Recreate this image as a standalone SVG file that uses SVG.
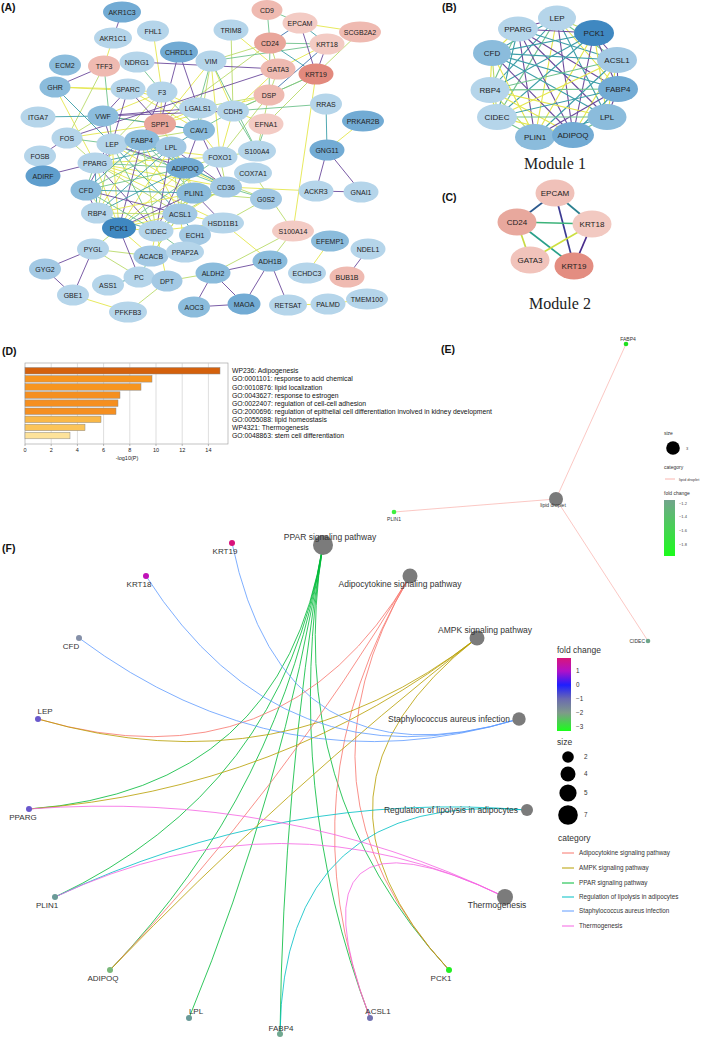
<svg xmlns="http://www.w3.org/2000/svg" width="709" height="1038" viewBox="0 0 709 1038">
<style>
text{font-family:"Liberation Sans",Arial,sans-serif;fill:#222}
.ttl{font-size:10.5px;font-weight:bold;fill:#111}
.ea line{stroke-width:0.9;fill:none}
.eb line{stroke-width:1.1;fill:none}
.y{stroke:#e4e64c}.yg{stroke:#b9da6a}.g{stroke:#6fc28c}.t{stroke:#3c9ea8}.b{stroke:#3d70ab}.p{stroke:#6b4a9c}
.na text{font-size:7px;text-anchor:middle}
.nb text{font-size:8px;text-anchor:middle}
.l{fill:#b5d5ea}.l2{fill:#a3c9e4}.m{fill:#8bbcdc}.md{fill:#72abd4}.d{fill:#5f9ecd}.dd{fill:#3f88c1}
.p1{fill:#f3cbc4}.p2{fill:#efbab1}.p3{fill:#e9a69b}.p4{fill:#e2897d}
.mod{font-family:"Liberation Serif","Times New Roman",serif;font-size:16px;text-anchor:middle}
.dl{font-size:6.8px;fill:#111}
.tick{font-size:5.5px;text-anchor:middle}
.ef path{fill:none;stroke-width:0.9;stroke-opacity:0.9}
.ptl{font-size:8.5px;text-anchor:middle;fill:#333}
.gtl{font-size:8px;text-anchor:middle;fill:#333}
.lg{font-size:8.5px;fill:#333}
.lgs{font-size:6.3px;fill:#333}
.es{font-size:5px;fill:#333}
.es2{font-size:4px;fill:#444}
</style>
<defs>
<linearGradient id="fcE" x1="0" y1="0" x2="0" y2="1"><stop offset="0" stop-color="#72a58c"/><stop offset="1" stop-color="#1cfc1c"/></linearGradient>
<linearGradient id="fcF" x1="0" y1="0" x2="0" y2="1"><stop offset="0" stop-color="#d8157a"/><stop offset="0.18" stop-color="#b011c8"/><stop offset="0.37" stop-color="#1e1eff"/><stop offset="0.56" stop-color="#6a6ab0"/><stop offset="0.75" stop-color="#7f9a8a"/><stop offset="1" stop-color="#1aff1a"/></linearGradient>
</defs>
<rect width="709" height="1038" fill="#fff"/>
<text class="ttl" x="1" y="11">(A)</text>
<text class="ttl" x="442" y="11">(B)</text>
<text class="ttl" x="442" y="201">(C)</text>
<text class="ttl" x="2" y="355">(D)</text>
<text class="ttl" x="441" y="353">(E)</text>
<text class="ttl" x="2" y="552">(F)</text>

<!-- Panel A connectors -->
<g id="A-connectors" class="ea">
<line class="y" x1="231" y1="30" x2="278" y2="69"/><line class="yg" x1="231" y1="30" x2="233" y2="111"/><line class="y" x1="160" y1="124" x2="269" y2="95"/><line class="yg" x1="198" y1="108" x2="269" y2="95"/>
<line class="y" x1="113" y1="38" x2="104" y2="66"/><line class="y" x1="211" y1="61" x2="233" y2="111"/><line class="y" x1="211" y1="61" x2="160" y2="124"/><line class="y" x1="211" y1="61" x2="220" y2="157"/><line class="y" x1="55" y1="87" x2="128" y2="89"/><line class="y" x1="55" y1="87" x2="162" y2="92"/><line class="y" x1="55" y1="87" x2="95" y2="163"/><line class="y" x1="128" y1="89" x2="198" y2="108"/><line class="y" x1="128" y1="89" x2="199" y2="130"/><line class="y" x1="162" y1="92" x2="160" y2="124"/><line class="y" x1="162" y1="92" x2="103" y2="116"/><line class="y" x1="162" y1="92" x2="198" y2="108"/><line class="y" x1="153" y1="31" x2="162" y2="92"/><line class="y" x1="103" y1="116" x2="160" y2="124"/><line class="y" x1="67" y1="138" x2="160" y2="124"/><line class="y" x1="198" y1="108" x2="233" y2="111"/><line class="y" x1="198" y1="108" x2="160" y2="124"/><line class="y" x1="233" y1="111" x2="266" y2="124"/><line class="y" x1="233" y1="111" x2="220" y2="157"/><line class="y" x1="233" y1="111" x2="278" y2="69"/><line class="y" x1="160" y1="124" x2="185" y2="168"/><line class="y" x1="199" y1="130" x2="220" y2="157"/><line class="y" x1="300" y1="23" x2="360" y2="32"/><line class="y" x1="327" y1="44" x2="278" y2="69"/><line class="y" x1="316" y1="74" x2="293" y2="231"/><line class="y" x1="363" y1="121" x2="327" y2="150"/><line class="y" x1="220" y1="157" x2="95" y2="163"/><line class="y" x1="220" y1="157" x2="112" y2="144"/><line class="y" x1="226" y1="187" x2="316" y2="191"/><line class="y" x1="223" y1="223" x2="270" y2="261"/><line class="y" x1="223" y1="223" x2="180" y2="214"/><line class="y" x1="330" y1="241" x2="307" y2="273"/><line class="y" x1="288" y1="305" x2="328" y2="304"/><line class="y" x1="328" y1="304" x2="367" y2="299"/><line class="y" x1="167" y1="281" x2="156" y2="231"/><line class="y" x1="156" y1="231" x2="151" y2="256"/><line class="y" x1="180" y1="214" x2="185" y2="252"/><line class="y" x1="119" y1="228" x2="151" y2="256"/><line class="y" x1="73" y1="295" x2="128" y2="312"/><line class="y" x1="151" y1="256" x2="180" y2="214"/><line class="y" x1="223" y1="223" x2="95" y2="163"/><line class="y" x1="223" y1="223" x2="156" y2="231"/><line class="y" x1="226" y1="187" x2="95" y2="163"/><line class="y" x1="226" y1="187" x2="185" y2="168"/><line class="y" x1="226" y1="187" x2="156" y2="231"/><line class="y" x1="226" y1="187" x2="119" y2="228"/>
<line class="yg" x1="104" y1="66" x2="67" y2="138"/><line class="yg" x1="211" y1="61" x2="199" y2="130"/><line class="yg" x1="211" y1="61" x2="270" y2="43"/><line class="yg" x1="162" y1="92" x2="112" y2="144"/><line class="yg" x1="103" y1="116" x2="67" y2="138"/><line class="yg" x1="67" y1="138" x2="95" y2="163"/><line class="yg" x1="233" y1="111" x2="316" y2="74"/><line class="yg" x1="160" y1="124" x2="112" y2="144"/><line class="yg" x1="160" y1="124" x2="270" y2="43"/><line class="yg" x1="199" y1="130" x2="112" y2="144"/><line class="yg" x1="270" y1="43" x2="278" y2="69"/><line class="yg" x1="360" y1="32" x2="316" y2="74"/><line class="yg" x1="278" y1="69" x2="269" y2="95"/><line class="yg" x1="316" y1="74" x2="266" y2="124"/><line class="yg" x1="269" y1="95" x2="257" y2="151"/><line class="yg" x1="269" y1="95" x2="220" y2="157"/><line class="yg" x1="257" y1="151" x2="220" y2="157"/><line class="yg" x1="253" y1="173" x2="293" y2="231"/><line class="yg" x1="253" y1="173" x2="226" y2="187"/><line class="yg" x1="266" y1="199" x2="194" y2="193"/><line class="yg" x1="266" y1="199" x2="223" y2="223"/><line class="yg" x1="266" y1="199" x2="185" y2="168"/><line class="yg" x1="293" y1="231" x2="270" y2="261"/><line class="yg" x1="293" y1="231" x2="213" y2="273"/><line class="yg" x1="167" y1="281" x2="213" y2="273"/><line class="yg" x1="167" y1="281" x2="128" y2="312"/><line class="yg" x1="119" y1="228" x2="93" y2="249"/><line class="yg" x1="93" y1="249" x2="151" y2="256"/><line class="yg" x1="93" y1="249" x2="139" y2="277"/><line class="yg" x1="185" y1="168" x2="220" y2="157"/><line class="yg" x1="220" y1="157" x2="226" y2="187"/><line class="yg" x1="226" y1="187" x2="194" y2="193"/><line class="yg" x1="226" y1="187" x2="180" y2="214"/><line class="yg" x1="151" y1="256" x2="194" y2="193"/>
<line class="g" x1="104" y1="66" x2="112" y2="144"/><line class="g" x1="137" y1="62" x2="162" y2="92"/><line class="g" x1="211" y1="61" x2="198" y2="108"/><line class="g" x1="211" y1="61" x2="257" y2="151"/><line class="g" x1="211" y1="61" x2="327" y2="44"/><line class="g" x1="162" y1="92" x2="199" y2="130"/><line class="g" x1="67" y1="138" x2="112" y2="144"/><line class="g" x1="198" y1="108" x2="199" y2="130"/><line class="g" x1="233" y1="111" x2="269" y2="95"/><line class="g" x1="233" y1="111" x2="326" y2="104"/><line class="g" x1="233" y1="111" x2="257" y2="151"/><line class="g" x1="233" y1="111" x2="199" y2="130"/><line class="g" x1="160" y1="124" x2="142" y2="140"/><line class="g" x1="267" y1="9" x2="300" y2="23"/><line class="g" x1="267" y1="9" x2="270" y2="43"/><line class="g" x1="270" y1="43" x2="327" y2="44"/><line class="g" x1="270" y1="43" x2="269" y2="95"/><line class="g" x1="316" y1="74" x2="269" y2="95"/><line class="g" x1="266" y1="124" x2="257" y2="151"/><line class="g" x1="220" y1="157" x2="119" y2="228"/><line class="g" x1="226" y1="187" x2="266" y2="199"/><line class="g" x1="156" y1="231" x2="185" y2="252"/><line class="g" x1="139" y1="277" x2="151" y2="256"/><line class="g" x1="226" y1="187" x2="112" y2="144"/>
<line class="t" x1="55" y1="87" x2="112" y2="144"/><line class="t" x1="38" y1="117" x2="103" y2="116"/><line class="t" x1="103" y1="116" x2="199" y2="130"/><line class="t" x1="160" y1="124" x2="199" y2="130"/><line class="t" x1="199" y1="130" x2="171" y2="147"/><line class="t" x1="300" y1="23" x2="327" y2="44"/><line class="t" x1="270" y1="43" x2="316" y2="74"/><line class="t" x1="326" y1="104" x2="327" y2="150"/><line class="t" x1="180" y1="214" x2="195" y2="235"/><line class="t" x1="108" y1="285" x2="139" y2="277"/><line class="t" x1="226" y1="187" x2="142" y2="140"/>
<line class="b" x1="300" y1="23" x2="270" y2="43"/><line class="b" x1="327" y1="44" x2="269" y2="95"/>
<line class="p" x1="122" y1="12" x2="113" y2="38"/><line class="p" x1="104" y1="66" x2="55" y2="87"/><line class="p" x1="137" y1="62" x2="278" y2="69"/><line class="p" x1="179" y1="52" x2="198" y2="108"/><line class="p" x1="179" y1="52" x2="160" y2="124"/><line class="p" x1="128" y1="89" x2="103" y2="116"/><line class="p" x1="128" y1="89" x2="112" y2="144"/><line class="p" x1="128" y1="89" x2="160" y2="124"/><line class="p" x1="162" y1="92" x2="142" y2="140"/><line class="p" x1="103" y1="116" x2="198" y2="108"/><line class="p" x1="103" y1="116" x2="233" y2="111"/><line class="p" x1="103" y1="116" x2="112" y2="144"/><line class="p" x1="67" y1="138" x2="278" y2="69"/><line class="p" x1="67" y1="138" x2="40" y2="156"/><line class="p" x1="160" y1="124" x2="95" y2="163"/><line class="p" x1="199" y1="130" x2="185" y2="168"/><line class="p" x1="199" y1="130" x2="226" y2="187"/><line class="p" x1="300" y1="23" x2="316" y2="74"/><line class="p" x1="327" y1="44" x2="316" y2="74"/><line class="p" x1="327" y1="150" x2="316" y2="191"/><line class="p" x1="327" y1="150" x2="361" y2="192"/><line class="p" x1="316" y1="191" x2="361" y2="192"/><line class="p" x1="223" y1="223" x2="194" y2="193"/><line class="p" x1="368" y1="249" x2="347" y2="277"/><line class="p" x1="270" y1="261" x2="244" y2="304"/><line class="p" x1="270" y1="261" x2="288" y2="305"/><line class="p" x1="270" y1="261" x2="213" y2="273"/><line class="p" x1="244" y1="304" x2="194" y2="307"/><line class="p" x1="213" y1="273" x2="194" y2="307"/><line class="p" x1="213" y1="273" x2="244" y2="304"/><line class="p" x1="119" y1="228" x2="139" y2="277"/><line class="p" x1="93" y1="249" x2="45" y2="269"/><line class="p" x1="93" y1="249" x2="73" y2="295"/><line class="p" x1="45" y1="269" x2="73" y2="295"/><line class="p" x1="95" y1="163" x2="43" y2="176"/><line class="p" x1="226" y1="187" x2="171" y2="147"/>
<line class="p" x1="95" y1="163" x2="112" y2="144"/><line class="y" x1="95" y1="163" x2="142" y2="140"/><line class="t" x1="95" y1="163" x2="171" y2="147"/><line class="g" x1="95" y1="163" x2="185" y2="168"/><line class="y" x1="95" y1="163" x2="194" y2="193"/><line class="yg" x1="95" y1="163" x2="180" y2="214"/><line class="p" x1="95" y1="163" x2="156" y2="231"/><line class="y" x1="95" y1="163" x2="119" y2="228"/><line class="t" x1="95" y1="163" x2="97" y2="213"/><line class="g" x1="95" y1="163" x2="86" y2="190"/><line class="y" x1="112" y1="144" x2="142" y2="140"/><line class="yg" x1="112" y1="144" x2="171" y2="147"/><line class="p" x1="112" y1="144" x2="185" y2="168"/><line class="y" x1="112" y1="144" x2="194" y2="193"/><line class="t" x1="112" y1="144" x2="180" y2="214"/><line class="g" x1="112" y1="144" x2="156" y2="231"/><line class="y" x1="112" y1="144" x2="119" y2="228"/><line class="yg" x1="112" y1="144" x2="97" y2="213"/><line class="p" x1="112" y1="144" x2="86" y2="190"/><line class="y" x1="142" y1="140" x2="171" y2="147"/><line class="t" x1="142" y1="140" x2="185" y2="168"/><line class="g" x1="142" y1="140" x2="194" y2="193"/><line class="y" x1="142" y1="140" x2="180" y2="214"/><line class="yg" x1="142" y1="140" x2="156" y2="231"/><line class="p" x1="142" y1="140" x2="119" y2="228"/><line class="y" x1="142" y1="140" x2="97" y2="213"/><line class="t" x1="142" y1="140" x2="86" y2="190"/><line class="g" x1="171" y1="147" x2="185" y2="168"/><line class="y" x1="171" y1="147" x2="194" y2="193"/><line class="yg" x1="171" y1="147" x2="180" y2="214"/><line class="p" x1="171" y1="147" x2="156" y2="231"/><line class="y" x1="171" y1="147" x2="119" y2="228"/><line class="t" x1="171" y1="147" x2="97" y2="213"/><line class="g" x1="171" y1="147" x2="86" y2="190"/><line class="y" x1="185" y1="168" x2="194" y2="193"/><line class="yg" x1="185" y1="168" x2="180" y2="214"/><line class="p" x1="185" y1="168" x2="156" y2="231"/><line class="y" x1="185" y1="168" x2="119" y2="228"/><line class="t" x1="185" y1="168" x2="97" y2="213"/><line class="g" x1="185" y1="168" x2="86" y2="190"/><line class="y" x1="194" y1="193" x2="180" y2="214"/><line class="yg" x1="194" y1="193" x2="156" y2="231"/><line class="p" x1="194" y1="193" x2="119" y2="228"/><line class="y" x1="194" y1="193" x2="97" y2="213"/><line class="t" x1="194" y1="193" x2="86" y2="190"/><line class="g" x1="180" y1="214" x2="156" y2="231"/><line class="y" x1="180" y1="214" x2="119" y2="228"/><line class="yg" x1="180" y1="214" x2="97" y2="213"/><line class="p" x1="180" y1="214" x2="86" y2="190"/><line class="y" x1="156" y1="231" x2="119" y2="228"/><line class="t" x1="156" y1="231" x2="97" y2="213"/><line class="g" x1="156" y1="231" x2="86" y2="190"/><line class="y" x1="119" y1="228" x2="97" y2="213"/><line class="yg" x1="119" y1="228" x2="86" y2="190"/><line class="p" x1="97" y1="213" x2="86" y2="190"/>
</g>

<!-- Panel A nodes -->
<g class="na">
<g id="a-AKR1C3"><ellipse class="md" cx="122" cy="12" rx="19" ry="10.5"/><text x="122" y="14.5">AKR1C3</text></g>
<g id="a-AKR1C1"><ellipse class="l" cx="113" cy="38" rx="19" ry="10.5"/><text x="113" y="40.5">AKR1C1</text></g>
<g id="a-FHL1"><ellipse class="l" cx="153" cy="31" rx="16" ry="10.5"/><text x="153" y="33.5">FHL1</text></g>
<g id="a-TRIM8"><ellipse class="l" cx="231" cy="30" rx="17.5" ry="10.5"/><text x="231" y="32.5">TRIM8</text></g>
<g id="a-CD9"><ellipse class="p2" cx="267" cy="10" rx="15.5" ry="10"/><text x="267" y="12.5">CD9</text></g>
<g id="a-EPCAM"><ellipse class="p1" cx="300" cy="23" rx="17.5" ry="10.5"/><text x="300" y="25.5">EPCAM</text></g>
<g id="a-SCGB2A2"><ellipse class="p2" cx="360" cy="32" rx="21" ry="10.5"/><text x="360" y="34.5">SCGB2A2</text></g>
<g id="a-CD24"><ellipse class="p3" cx="270" cy="43" rx="16" ry="10.5"/><text x="270" y="45.5">CD24</text></g>
<g id="a-KRT18"><ellipse class="p1" cx="327" cy="44" rx="17.5" ry="10.5"/><text x="327" y="46.5">KRT18</text></g>
<g id="a-CHRDL1"><ellipse class="md" cx="179" cy="52" rx="19" ry="10.5"/><text x="179" y="54.5">CHRDL1</text></g>
<g id="a-VIM"><ellipse class="l" cx="211" cy="61" rx="15.5" ry="10.5"/><text x="211" y="63.5">VIM</text></g>
<g id="a-GATA3"><ellipse class="p2" cx="278" cy="69" rx="17.5" ry="10.5"/><text x="278" y="71.5">GATA3</text></g>
<g id="a-KRT19"><ellipse class="p4" cx="316" cy="74" rx="17.5" ry="10.5"/><text x="316" y="76.5">KRT19</text></g>
<g id="a-ECM2"><ellipse class="m" cx="65" cy="65" rx="16" ry="10.5"/><text x="65" y="67.5">ECM2</text></g>
<g id="a-TFF3"><ellipse class="p2" cx="104" cy="66" rx="16" ry="10.5"/><text x="104" y="68.5">TFF3</text></g>
<g id="a-NDRG1"><ellipse class="l" cx="137" cy="62" rx="17.5" ry="10.5"/><text x="137" y="64.5">NDRG1</text></g>
<g id="a-GHR"><ellipse class="m" cx="55" cy="87" rx="15.5" ry="10.5"/><text x="55" y="89.5">GHR</text></g>
<g id="a-SPARC"><ellipse class="l" cx="128" cy="89" rx="17.5" ry="10.5"/><text x="128" y="91.5">SPARC</text></g>
<g id="a-F3"><ellipse class="l" cx="162" cy="92" rx="15.5" ry="10.5"/><text x="162" y="94.5">F3</text></g>
<g id="a-DSP"><ellipse class="p2" cx="269" cy="95" rx="15.5" ry="10.5"/><text x="269" y="97.5">DSP</text></g>
<g id="a-RRAS"><ellipse class="l" cx="326" cy="104" rx="16" ry="10.5"/><text x="326" y="106.5">RRAS</text></g>
<g id="a-PRKAR2B"><ellipse class="md" cx="363" cy="121" rx="21" ry="10.5"/><text x="363" y="123.5">PRKAR2B</text></g>
<g id="a-ITGA7"><ellipse class="l" cx="38" cy="117" rx="17.5" ry="10.5"/><text x="38" y="119.5">ITGA7</text></g>
<g id="a-VWF"><ellipse class="m" cx="103" cy="116" rx="15.5" ry="10.5"/><text x="103" y="118.5">VWF</text></g>
<g id="a-LGALS1"><ellipse class="l" cx="198" cy="108" rx="19" ry="10.5"/><text x="198" y="110.5">LGALS1</text></g>
<g id="a-CDH5"><ellipse class="l" cx="233" cy="111" rx="16" ry="10.5"/><text x="233" y="113.5">CDH5</text></g>
<g id="a-SPP1"><ellipse class="p3" cx="160" cy="124" rx="16" ry="10.5"/><text x="160" y="126.5">SPP1</text></g>
<g id="a-CAV1"><ellipse class="m" cx="199" cy="130" rx="16" ry="10.5"/><text x="199" y="132.5">CAV1</text></g>
<g id="a-EFNA1"><ellipse class="p1" cx="266" cy="124" rx="17.5" ry="10.5"/><text x="266" y="126.5">EFNA1</text></g>
<g id="a-FOS"><ellipse class="l" cx="67" cy="138" rx="15.5" ry="10.5"/><text x="67" y="140.5">FOS</text></g>
<g id="a-LEP"><ellipse class="l" cx="112" cy="144" rx="15.5" ry="10.5"/><text x="112" y="146.5">LEP</text></g>
<g id="a-FABP4"><ellipse class="m" cx="142" cy="140" rx="17.5" ry="10.5"/><text x="142" y="142.5">FABP4</text></g>
<g id="a-LPL"><ellipse class="l2" cx="171" cy="147" rx="15.5" ry="10.5"/><text x="171" y="149.5">LPL</text></g>
<g id="a-FOXO1"><ellipse class="l" cx="220" cy="157" rx="17.5" ry="10.5"/><text x="220" y="159.5">FOXO1</text></g>
<g id="a-S100A4"><ellipse class="l" cx="257" cy="151" rx="19" ry="10.5"/><text x="257" y="153.5">S100A4</text></g>
<g id="a-GNG11"><ellipse class="md" cx="327" cy="150" rx="17.5" ry="10.5"/><text x="327" y="152.5">GNG11</text></g>
<g id="a-FOSB"><ellipse class="l" cx="40" cy="156" rx="16" ry="10.5"/><text x="40" y="158.5">FOSB</text></g>
<g id="a-PPARG"><ellipse class="l" cx="95" cy="163" rx="17.5" ry="10.5"/><text x="95" y="165.5">PPARG</text></g>
<g id="a-ADIPOQ"><ellipse class="md" cx="185" cy="168" rx="19" ry="10.5"/><text x="185" y="170.5">ADIPOQ</text></g>
<g id="a-COX7A1"><ellipse class="l" cx="253" cy="173" rx="19" ry="10.5"/><text x="253" y="175.5">COX7A1</text></g>
<g id="a-ADIRF"><ellipse class="d" cx="43" cy="176" rx="17.5" ry="10.5"/><text x="43" y="178.5">ADIRF</text></g>
<g id="a-CFD"><ellipse class="m" cx="86" cy="190" rx="15.5" ry="10.5"/><text x="86" y="192.5">CFD</text></g>
<g id="a-PLIN1"><ellipse class="m" cx="194" cy="193" rx="17.5" ry="10.5"/><text x="194" y="195.5">PLIN1</text></g>
<g id="a-CD36"><ellipse class="l2" cx="226" cy="187" rx="16" ry="10.5"/><text x="226" y="189.5">CD36</text></g>
<g id="a-ACKR3"><ellipse class="l" cx="316" cy="191" rx="17.5" ry="10.5"/><text x="316" y="193.5">ACKR3</text></g>
<g id="a-GNAI1"><ellipse class="l" cx="361" cy="192" rx="17.5" ry="10.5"/><text x="361" y="194.5">GNAI1</text></g>
<g id="a-G0S2"><ellipse class="l2" cx="266" cy="199" rx="16" ry="10.5"/><text x="266" y="201.5">G0S2</text></g>
<g id="a-RBP4"><ellipse class="l" cx="97" cy="213" rx="16" ry="10.5"/><text x="97" y="215.5">RBP4</text></g>
<g id="a-ACSL1"><ellipse class="l2" cx="180" cy="214" rx="17.5" ry="10.5"/><text x="180" y="216.5">ACSL1</text></g>
<g id="a-HSD11B1"><ellipse class="l" cx="223" cy="223" rx="21" ry="10.5"/><text x="223" y="225.5">HSD11B1</text></g>
<g id="a-PCK1"><ellipse class="dd" cx="119" cy="228" rx="17" ry="10.5"/><text x="119" y="230.5">PCK1</text></g>
<g id="a-CIDEC"><ellipse class="l" cx="156" cy="231" rx="17.5" ry="10.5"/><text x="156" y="233.5">CIDEC</text></g>
<g id="a-ECH1"><ellipse class="l2" cx="195" cy="235" rx="16" ry="10.5"/><text x="195" y="237.5">ECH1</text></g>
<g id="a-S100A14"><ellipse class="p1" cx="293" cy="231" rx="21" ry="10.5"/><text x="293" y="233.5">S100A14</text></g>
<g id="a-EFEMP1"><ellipse class="m" cx="330" cy="241" rx="19" ry="10.5"/><text x="330" y="243.5">EFEMP1</text></g>
<g id="a-NDEL1"><ellipse class="l" cx="368" cy="249" rx="17.5" ry="10.5"/><text x="368" y="251.5">NDEL1</text></g>
<g id="a-PYGL"><ellipse class="l" cx="93" cy="249" rx="16" ry="10.5"/><text x="93" y="251.5">PYGL</text></g>
<g id="a-ACACB"><ellipse class="l2" cx="151" cy="256" rx="17.5" ry="10.5"/><text x="151" y="258.5">ACACB</text></g>
<g id="a-PPAP2A"><ellipse class="l" cx="185" cy="252" rx="19" ry="10.5"/><text x="185" y="254.5">PPAP2A</text></g>
<g id="a-ECHDC3"><ellipse class="l" cx="307" cy="273" rx="19" ry="10.5"/><text x="307" y="275.5">ECHDC3</text></g>
<g id="a-BUB1B"><ellipse class="p2" cx="347" cy="277" rx="17.5" ry="10.5"/><text x="347" y="279.5">BUB1B</text></g>
<g id="a-ADH1B"><ellipse class="m" cx="270" cy="261" rx="17.5" ry="10.5"/><text x="270" y="263.5">ADH1B</text></g>
<g id="a-ALDH2"><ellipse class="m" cx="213" cy="273" rx="17.5" ry="10.5"/><text x="213" y="275.5">ALDH2</text></g>
<g id="a-GYG2"><ellipse class="l2" cx="45" cy="269" rx="16" ry="10.5"/><text x="45" y="271.5">GYG2</text></g>
<g id="a-PC"><ellipse class="l" cx="139" cy="277" rx="15.5" ry="10.5"/><text x="139" y="279.5">PC</text></g>
<g id="a-ASS1"><ellipse class="l" cx="108" cy="285" rx="16" ry="10.5"/><text x="108" y="287.5">ASS1</text></g>
<g id="a-DPT"><ellipse class="l2" cx="167" cy="281" rx="15.5" ry="10.5"/><text x="167" y="283.5">DPT</text></g>
<g id="a-GBE1"><ellipse class="l" cx="73" cy="295" rx="16" ry="10.5"/><text x="73" y="297.5">GBE1</text></g>
<g id="a-AOC3"><ellipse class="m" cx="194" cy="307" rx="16" ry="10.5"/><text x="194" y="309.5">AOC3</text></g>
<g id="a-MAOA"><ellipse class="md" cx="244" cy="304" rx="16.5" ry="10.5"/><text x="244" y="306.5">MAOA</text></g>
<g id="a-RETSAT"><ellipse class="l" cx="288" cy="305" rx="19" ry="10.5"/><text x="288" y="307.5">RETSAT</text></g>
<g id="a-PALMD"><ellipse class="l" cx="328" cy="304" rx="17.5" ry="10.5"/><text x="328" y="306.5">PALMD</text></g>
<g id="a-TMEM100"><ellipse class="l" cx="367" cy="299" rx="21" ry="10.5"/><text x="367" y="301.5">TMEM100</text></g>
<g id="a-PFKFB3"><ellipse class="l" cx="128" cy="312" rx="19" ry="10.5"/><text x="128" y="314.5">PFKFB3</text></g>
</g>

<!-- Panel B connectors -->
<g id="B-connectors" class="eb">
<line class="p" x1="557" y1="18" x2="518" y2="29"/><line class="yg" x1="557" y1="18" x2="594" y2="33"/><line class="t" x1="557" y1="18" x2="492" y2="53"/><line class="g" x1="557" y1="18" x2="617" y2="60"/><line class="t" x1="557" y1="18" x2="490" y2="90"/><line class="y" x1="557" y1="18" x2="618" y2="89"/><line class="g" x1="557" y1="18" x2="497" y2="117"/><line class="t" x1="557" y1="18" x2="607" y2="117"/><line class="y" x1="557" y1="18" x2="535" y2="137"/><line class="p" x1="557" y1="18" x2="573" y2="135"/>
<line class="p" x1="518" y1="29" x2="594" y2="33"/><line class="y" x1="518" y1="29" x2="492" y2="53"/><line class="t" x1="518" y1="29" x2="617" y2="60"/><line class="g" x1="518" y1="29" x2="490" y2="90"/><line class="p" x1="518" y1="29" x2="618" y2="89"/><line class="t" x1="518" y1="29" x2="497" y2="117"/><line class="p" x1="518" y1="29" x2="607" y2="117"/><line class="p" x1="518" y1="29" x2="535" y2="137"/><line class="p" x1="518" y1="29" x2="573" y2="135"/>
<line class="t" x1="594" y1="33" x2="492" y2="53"/><line class="p" x1="594" y1="33" x2="617" y2="60"/><line class="t" x1="594" y1="33" x2="490" y2="90"/><line class="p" x1="594" y1="33" x2="618" y2="89"/><line class="t" x1="594" y1="33" x2="497" y2="117"/><line class="y" x1="594" y1="33" x2="607" y2="117"/><line class="y" x1="594" y1="33" x2="535" y2="137"/><line class="p" x1="594" y1="33" x2="573" y2="135"/>
<line class="t" x1="492" y1="53" x2="617" y2="60"/><line class="y" x1="492" y1="53" x2="490" y2="90"/><line class="t" x1="492" y1="53" x2="618" y2="89"/><line class="yg" x1="492" y1="53" x2="497" y2="117"/><line class="t" x1="492" y1="53" x2="607" y2="117"/><line class="y" x1="492" y1="53" x2="535" y2="137"/><line class="p" x1="492" y1="53" x2="573" y2="135"/>
<line class="g" x1="617" y1="60" x2="490" y2="90"/><line class="p" x1="617" y1="60" x2="618" y2="89"/><line class="y" x1="617" y1="60" x2="497" y2="117"/><line class="y" x1="617" y1="60" x2="607" y2="117"/><line class="t" x1="617" y1="60" x2="535" y2="137"/><line class="y" x1="617" y1="60" x2="573" y2="135"/>
<line class="g" x1="490" y1="90" x2="618" y2="89"/><line class="y" x1="490" y1="90" x2="497" y2="117"/><line class="y" x1="490" y1="90" x2="607" y2="117"/><line class="yg" x1="490" y1="90" x2="535" y2="137"/><line class="y" x1="490" y1="90" x2="573" y2="135"/>
<line class="t" x1="618" y1="89" x2="497" y2="117"/><line class="p" x1="618" y1="89" x2="607" y2="117"/><line class="p" x1="618" y1="89" x2="535" y2="137"/><line class="t" x1="618" y1="89" x2="573" y2="135"/>
<line class="g" x1="497" y1="117" x2="607" y2="117"/><line class="g" x1="497" y1="117" x2="535" y2="137"/><line class="y" x1="497" y1="117" x2="573" y2="135"/>
<line class="t" x1="607" y1="117" x2="535" y2="137"/><line class="g" x1="607" y1="117" x2="573" y2="135"/><line class="t" x1="535" y1="137" x2="573" y2="135"/>
</g>
<g class="nb">
<g id="b-LEP"><ellipse class="l" cx="557" cy="18" rx="19" ry="12.5"/><text x="557" y="20.8">LEP</text></g>
<g id="b-PPARG"><ellipse class="l" cx="518" cy="29" rx="20" ry="12.5"/><text x="518" y="31.8">PPARG</text></g>
<g id="b-PCK1"><ellipse class="dd" cx="594" cy="33" rx="20" ry="13"/><text x="594" y="35.8">PCK1</text></g>
<g id="b-CFD"><ellipse class="m" cx="492" cy="53" rx="19" ry="13"/><text x="492" y="55.8">CFD</text></g>
<g id="b-ACSL1"><ellipse class="l2" cx="617" cy="60" rx="20" ry="13"/><text x="617" y="62.8">ACSL1</text></g>
<g id="b-RBP4"><ellipse class="l" cx="490" cy="90" rx="19.5" ry="13"/><text x="490" y="92.8">RBP4</text></g>
<g id="b-FABP4"><ellipse class="md" cx="618" cy="89" rx="20" ry="13"/><text x="618" y="91.8">FABP4</text></g>
<g id="b-CIDEC"><ellipse class="l" cx="497" cy="117" rx="20" ry="13"/><text x="497" y="119.8">CIDEC</text></g>
<g id="b-LPL"><ellipse class="m" cx="607" cy="117" rx="19.5" ry="13"/><text x="607" y="119.8">LPL</text></g>
<g id="b-PLIN1"><ellipse class="m" cx="535" cy="137" rx="20" ry="13"/><text x="535" y="139.8">PLIN1</text></g>
<g id="b-ADIPOQ"><ellipse class="md" cx="573" cy="135" rx="21" ry="13"/><text x="573" y="137.8">ADIPOQ</text></g>
</g>
<text class="mod" x="555" y="169">Module 1</text>

<!-- Panel C -->
<g id="C-connectors" stroke-width="1.7">
<line x1="555" y1="193" x2="517" y2="222" stroke="#2d5a8e"/><line x1="555" y1="193" x2="592" y2="224" stroke="#2c8190"/><line x1="555" y1="193" x2="574" y2="266" stroke="#3b3a92"/><line x1="517" y1="222" x2="592" y2="224" stroke="#3cb37a"/><line x1="517" y1="222" x2="530" y2="260" stroke="#c8da44"/><line x1="517" y1="222" x2="574" y2="266" stroke="#2aa08a"/><line x1="530" y1="260" x2="592" y2="224" stroke="#cde040"/><line x1="592" y1="224" x2="574" y2="266" stroke="#4a2d8c"/>
</g>
<g class="nb">
<g id="c-EPCAM"><ellipse cx="555" cy="193" rx="19.5" ry="13.5" fill="#f0c1b9"/><text x="555" y="195.8">EPCAM</text></g>
<g id="c-CD24"><ellipse cx="517" cy="222" rx="19.5" ry="13.5" fill="#e8a89d"/><text x="517" y="224.8">CD24</text></g>
<g id="c-KRT18"><ellipse cx="592" cy="224" rx="19.5" ry="13.5" fill="#f2c9c1"/><text x="592" y="226.8">KRT18</text></g>
<g id="c-GATA3"><ellipse cx="530" cy="260" rx="19.5" ry="13.5" fill="#f1c3bb"/><text x="530" y="262.8">GATA3</text></g>
<g id="c-KRT19"><ellipse cx="574" cy="266" rx="19.5" ry="13.5" fill="#e38d81"/><text x="574" y="268.8">KRT19</text></g>
</g>
<text class="mod" x="560" y="309">Module 2</text>

<!-- Panel D -->
<g id="D-chart">
<rect x="25" y="363" width="203" height="81" fill="#fff" stroke="#999" stroke-width="0.6"/>
<g stroke="#c8c8c8" stroke-width="0.6">
<line x1="51.2" y1="363" x2="51.2" y2="444"/><line x1="77.4" y1="363" x2="77.4" y2="444"/><line x1="103.6" y1="363" x2="103.6" y2="444"/><line x1="129.8" y1="363" x2="129.8" y2="444"/><line x1="156" y1="363" x2="156" y2="444"/><line x1="182.2" y1="363" x2="182.2" y2="444"/><line x1="208.4" y1="363" x2="208.4" y2="444"/>
</g>
<g stroke="#8a8a8a" stroke-width="0.5">
<rect x="25" y="367.5" width="195" height="6.5" fill="#d4610d"/>
<rect x="25" y="375.6" width="127" height="6.5" fill="#f7951f"/>
<rect x="25" y="383.7" width="116" height="6.5" fill="#f7951f"/>
<rect x="25" y="391.8" width="95" height="6.5" fill="#f58f20"/>
<rect x="25" y="399.9" width="93" height="6.5" fill="#f58f20"/>
<rect x="25" y="408" width="91" height="6.5" fill="#f58f20"/>
<rect x="25" y="416.1" width="76" height="6.5" fill="#f9b848"/>
<rect x="25" y="424.2" width="60" height="6.5" fill="#fbc459"/>
<rect x="25" y="432.3" width="45" height="6.5" fill="#fde29a"/>
</g>
<g stroke="#777" stroke-width="0.5">
<line x1="25" y1="444" x2="25" y2="446"/><line x1="51.2" y1="444" x2="51.2" y2="446"/><line x1="77.4" y1="444" x2="77.4" y2="446"/><line x1="103.6" y1="444" x2="103.6" y2="446"/><line x1="129.8" y1="444" x2="129.8" y2="446"/><line x1="156" y1="444" x2="156" y2="446"/><line x1="182.2" y1="444" x2="182.2" y2="446"/><line x1="208.4" y1="444" x2="208.4" y2="446"/>
</g>
<text class="tick" x="25" y="452">0</text><text class="tick" x="51.2" y="452">2</text><text class="tick" x="77.4" y="452">4</text><text class="tick" x="103.6" y="452">6</text><text class="tick" x="129.8" y="452">8</text><text class="tick" x="156" y="452">10</text><text class="tick" x="182.2" y="452">12</text><text class="tick" x="208.4" y="452">14</text>
<text class="tick" x="127" y="460">-log10(P)</text>
<text class="dl" x="232" y="373.3">WP236: Adipogenesis</text>
<text class="dl" x="232" y="381.4">GO:0001101: response to acid chemical</text>
<text class="dl" x="232" y="389.5">GO:0010876: lipid localization</text>
<text class="dl" x="232" y="397.6">GO:0043627: response to estrogen</text>
<text class="dl" x="232" y="405.7">GO:0022407: regulation of cell-cell adhesion</text>
<text class="dl" x="232" y="413.8">GO:2000696: regulation of epithelial cell differentiation involved in kidney development</text>
<text class="dl" x="232" y="421.9">GO:0055088: lipid homeostasis</text>
<text class="dl" x="232" y="430">WP4321: Thermogenesis</text>
<text class="dl" x="232" y="438.1">GO:0048863: stem cell differentiation</text>
</g>

<!-- Panel E -->
<g id="E-connectors" stroke="#f8a39c" stroke-width="0.6">
<line x1="556" y1="499" x2="626" y2="344"/><line x1="556" y1="499" x2="394" y2="512"/><line x1="556" y1="499" x2="648" y2="641"/>
</g>
<g id="e-lipid-droplet"><circle cx="556" cy="499" r="7" fill="#7a7a7a"/><text class="es" x="553" y="507" text-anchor="middle">lipid droplet</text></g>
<g id="e-FABP4"><circle cx="626" cy="344" r="2.3" fill="#1fe01f"/><text class="es" x="628" y="340.5" text-anchor="middle">FABP4</text></g>
<g id="e-PLIN1"><circle cx="394" cy="512" r="2.3" fill="#3ef03e"/><text class="es" x="394" y="521" text-anchor="middle">PLIN1</text></g>
<g id="e-CIDEC"><circle cx="648" cy="641" r="2.3" fill="#6ea58a"/><text class="es" x="645" y="642.8" text-anchor="end">CIDEC</text></g>
<g id="E-legend">
<text class="es" x="664" y="435">size</text>
<circle cx="673" cy="448" r="6.8" fill="#000"/><text class="es2" x="686" y="449.5">3</text>
<text class="es" x="664" y="469">category</text>
<line x1="665" y1="479" x2="675" y2="479" stroke="#f8a39c" stroke-width="0.8"/><text class="es2" x="679" y="480.5">lipid droplet</text>
<text class="es" x="664" y="495">fold change</text>
<rect x="664" y="500" width="11" height="56" fill="url(#fcE)"/>
<text class="es2" x="679" y="504.5">−1.2</text><text class="es2" x="679" y="518">−1.4</text><text class="es2" x="679" y="532">−1.6</text><text class="es2" x="679" y="545.5">−1.8</text>
</g>

<!-- Panel F connectors -->
<g id="F-connectors" class="ef">
<path d="M323,545 Q283,790 29,809" stroke="#00ba38"/>
<path d="M323,545 Q283,790 55,897" stroke="#00ba38"/>
<path d="M323,545 Q283,790 110,970" stroke="#00ba38"/>
<path d="M323,545 Q283,790 189,1018" stroke="#00ba38"/>
<path d="M323,545 Q283,790 280,1034" stroke="#00ba38"/>
<path d="M323,545 Q283,790 370,1018" stroke="#00ba38"/>
<path d="M323,545 Q283,790 449,970" stroke="#00ba38"/>
<path d="M410,576 Q283,790 38,719" stroke="#f8766d"/>
<path d="M410,576 Q283,790 110,970" stroke="#f8766d"/>
<path d="M410,576 Q283,790 370,1018" stroke="#f8766d"/>
<path d="M410,576 Q283,790 449,970" stroke="#f8766d"/>
<path d="M477,638 Q283,790 38,719" stroke="#b79f00"/>
<path d="M477,638 Q283,790 29,809" stroke="#b79f00"/>
<path d="M477,638 Q283,790 110,970" stroke="#b79f00"/>
<path d="M477,638 Q283,790 449,970" stroke="#b79f00"/>
<path d="M519,719 Q283,790 232,543" stroke="#619cff"/>
<path d="M519,719 Q283,790 146,576" stroke="#619cff"/>
<path d="M519,719 Q283,790 79,638" stroke="#619cff"/>
<path d="M527,810 Q283,790 55,897" stroke="#00bfc4"/>
<path d="M527,810 Q283,790 280,1034" stroke="#00bfc4"/>
<path d="M505,897 Q283,790 29,809" stroke="#f564e3"/>
<path d="M505,897 Q283,790 55,897" stroke="#f564e3"/>
<path d="M505,897 Q283,790 370,1018" stroke="#f564e3"/>
</g>

<!-- Panel F nodes -->
<g id="f-PPAR"><circle cx="323" cy="545" r="10" fill="#7b7b7b"/><text class="ptl" x="330" y="540">PPAR signaling pathway</text></g>
<g id="f-Adipocytokine"><circle cx="410" cy="576" r="7.5" fill="#7b7b7b"/><text class="ptl" x="400" y="587">Adipocytokine signaling pathway</text></g>
<g id="f-AMPK"><circle cx="477" cy="638" r="7.5" fill="#7b7b7b"/><text class="ptl" x="485" y="633">AMPK signaling pathway</text></g>
<g id="f-Staph"><circle cx="519" cy="719" r="6.7" fill="#7b7b7b"/><text class="ptl" x="449" y="722">Staphylococcus aureus infection</text></g>
<g id="f-Lipolysis"><circle cx="527" cy="810" r="6" fill="#7b7b7b"/><text class="ptl" x="451" y="813">Regulation of lipolysis in adipocytes</text></g>
<g id="f-Thermogenesis"><circle cx="505" cy="897" r="8" fill="#7b7b7b"/><text class="ptl" x="497" y="908">Thermogenesis</text></g>
<g id="f-KRT19"><circle cx="232" cy="543" r="3" fill="#d8127c"/><text class="gtl" x="225" y="554">KRT19</text></g>
<g id="f-KRT18"><circle cx="146" cy="576" r="3" fill="#c012b8"/><text class="gtl" x="139" y="587">KRT18</text></g>
<g id="f-CFD"><circle cx="79" cy="638" r="3" fill="#8590a8"/><text class="gtl" x="71" y="649">CFD</text></g>
<g id="f-LEP"><circle cx="38" cy="719" r="3" fill="#6a58cc"/><text class="gtl" x="45" y="714">LEP</text></g>
<g id="f-PPARG"><circle cx="29" cy="809" r="3" fill="#6a58cc"/><text class="gtl" x="23" y="820">PPARG</text></g>
<g id="f-PLIN1"><circle cx="55" cy="897" r="3" fill="#6a9a98"/><text class="gtl" x="47" y="908">PLIN1</text></g>
<g id="f-ADIPOQ"><circle cx="110" cy="970" r="3" fill="#7ab87a"/><text class="gtl" x="103" y="981">ADIPOQ</text></g>
<g id="f-LPL"><circle cx="189" cy="1018" r="3" fill="#6a9a98"/><text class="gtl" x="196" y="1014">LPL</text></g>
<g id="f-FABP4"><circle cx="280" cy="1034" r="3" fill="#70a890"/><text class="gtl" x="281" y="1031">FABP4</text></g>
<g id="f-ACSL1"><circle cx="370" cy="1018" r="3" fill="#7272b0"/><text class="gtl" x="378" y="1014">ACSL1</text></g>
<g id="f-PCK1"><circle cx="449" cy="970" r="3" fill="#22ee22"/><text class="gtl" x="441" y="981">PCK1</text></g>

<!-- Panel F legend -->
<g id="F-legend">
<text class="lg" x="557" y="653">fold change</text>
<rect x="557" y="658" width="14" height="73" fill="url(#fcF)"/>
<text class="lgs" x="576" y="673">1</text><text class="lgs" x="576" y="687">0</text><text class="lgs" x="576" y="701">−1</text><text class="lgs" x="576" y="715">−2</text><text class="lgs" x="576" y="729">−3</text>
<text class="lg" x="557" y="745">size</text>
<circle cx="568" cy="757" r="5.8" fill="#000"/><text class="lgs" x="584" y="759">2</text>
<circle cx="568" cy="774" r="7.5" fill="#000"/><text class="lgs" x="584" y="776">4</text>
<circle cx="568" cy="793" r="8.6" fill="#000"/><text class="lgs" x="584" y="795">5</text>
<circle cx="568" cy="815" r="9.8" fill="#000"/><text class="lgs" x="584" y="817">7</text>
<text class="lg" x="558" y="841">category</text>
<g stroke-width="1">
<line x1="562" y1="853" x2="574" y2="853" stroke="#f8766d"/><line x1="562" y1="868" x2="574" y2="868" stroke="#b79f00"/><line x1="562" y1="883" x2="574" y2="883" stroke="#00ba38"/><line x1="562" y1="897" x2="574" y2="897" stroke="#00bfc4"/><line x1="562" y1="911" x2="574" y2="911" stroke="#619cff"/><line x1="562" y1="926" x2="574" y2="926" stroke="#f564e3"/>
</g>
<text class="lgs" x="579" y="855">Adipocytokine signaling pathway</text>
<text class="lgs" x="579" y="870">AMPK signaling pathway</text>
<text class="lgs" x="579" y="885">PPAR signaling pathway</text>
<text class="lgs" x="579" y="899">Regulation of lipolysis in adipocytes</text>
<text class="lgs" x="579" y="913">Staphylococcus aureus infection</text>
<text class="lgs" x="579" y="928">Thermogenesis</text>
</g>
</svg>
